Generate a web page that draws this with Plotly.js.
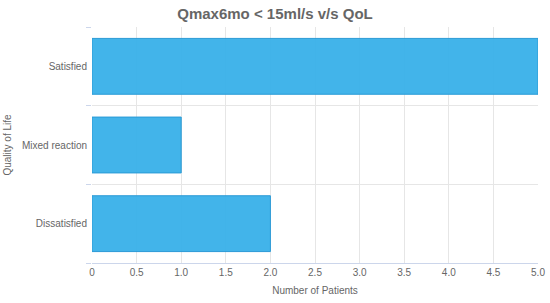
<!DOCTYPE html>
<html><head><meta charset="utf-8">
<script src="https://cdn.plot.ly/plotly-3.0.1.min.js"></script>
<style>html,body{margin:0;padding:0;background:#fff}</style>
</head><body>
<div id="chart" style="width:550px;height:303px"></div>
<script>
const categories = ['Dissatisfied', 'Mixed reaction', 'Satisfied'];
const patients = [2, 1, 5];
const xTicks = [0, 0.5, 1, 1.5, 2, 2.5, 3, 3.5, 4, 4.5, 5];
const xTickText = ['0', '0.5', '1.0', '1.5', '2.0', '2.5', '3.0', '3.5', '4.0', '4.5', '5.0'];

const trace = {
  type: 'bar', orientation: 'h',
  x: patients, y: categories,
  marker: {color: 'rgba(56,176,233,0.95)', line: {color: '#2a9ad6', width: 1}},
  hoverinfo: 'x+y'
};
const font = {family: 'Liberation Sans, Arial, sans-serif', color: '#666', size: 10};
const layout = {
  width: 550, height: 303,
  margin: {l: 92, r: 12, t: 27, b: 40},
  paper_bgcolor: '#fff', plot_bgcolor: '#fff',
  font: font,
  bargap: 0.29,
  showlegend: false,
  title: {text: '<b>Qmax6mo < 15ml/s v/s QoL</b>', x: 0.5, xanchor: 'center', y: 0.955, yanchor: 'middle',
          font: {family: 'Liberation Sans, Arial, sans-serif', size: 15, color: '#666'}},
  xaxis: {
    range: [0, 5], tickvals: xTicks, ticktext: xTickText,
    showgrid: true, gridcolor: '#e6e6e6', zeroline: false,
    showline: true, linecolor: '#ccd6eb', ticks: '', ticklen: 0,
    tickfont: font,
    title: {text: 'Number of Patients', standoff: 9, font: font}
  },
  yaxis: {
    type: 'category', categoryorder: 'array', categoryarray: categories,
    tickson: 'boundaries', ticks: 'outside', ticklen: 5, tickcolor: '#ccd6eb',
    ticklabelstandoff: 4,
    showgrid: true, gridcolor: '#e6e6e6', showline: false, zeroline: false,
    tickfont: font,
    title: {text: 'Quality of Life', standoff: 8, font: font}
  }
};
Plotly.newPlot('chart', [trace], layout, {displayModeBar: false, staticPlot: true});
</script>
</body></html>
